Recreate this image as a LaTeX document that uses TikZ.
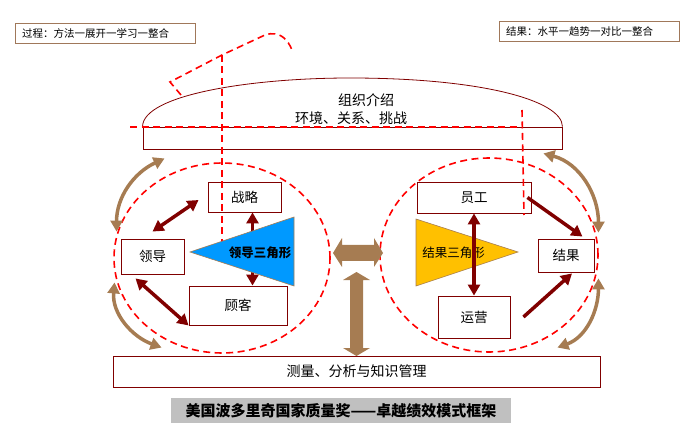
\documentclass[tikz,border=0pt]{standalone}
\usepackage{fontspec}
\setmainfont{Noto Sans CJK SC}
\usepackage{tikz}
\usetikzlibrary{arrows.meta}

\definecolor{darkred}{RGB}{128,0,0}
\definecolor{tanbrown}{RGB}{166,124,82}
\definecolor{notebrown}{RGB}{160,120,90}
\definecolor{triblue}{RGB}{0,153,255}
\definecolor{triyellow}{RGB}{255,192,0}
\definecolor{capgray}{RGB}{192,192,192}

\begin{document}
\begin{tikzpicture}[x=1pt,y=1pt,>={Triangle[length=11pt,width=12pt]}]
		\useasboundingbox (0,0) rectangle (695,-443);
		\tikzstyle{BoxStyle}=[draw=darkred,line width=0.9pt,inner sep=0pt,font=\fontsize{13.5}{15}\selectfont]
		\tikzstyle{NoteStyle}=[draw=notebrown,line width=0.9pt,inner xsep=7pt,inner ysep=0pt,text width=166pt,align=left,minimum height=20pt,font=\fontsize{10.5}{12}\selectfont]
		\tikzstyle{RedDash}=[red,line width=1.6pt,dash pattern=on 7pt off 4.5pt]
		\tikzstyle{LinkStyle}=[darkred,line width=3.5pt]
		\tikzstyle{LoopStyle}=[tanbrown,line width=3.5pt,<->]
		%\tikzstyle{LabelStyle}=[fill=white]
		% notes on top
		\node[NoteStyle] (process) at (105,-33) {过程：方法一展开一学习一整合};
		\node[NoteStyle] (outcome) at (589,-31.5) {结果：水平一趋势一对比一整合};
		% organisation header
		\node[BoxStyle,minimum width=419pt,minimum height=22pt] (org) at (352.5,-138) {};
		\draw[darkred,line width=0.8pt] (org.north west) .. controls (143,-95) and (250,-78) .. (350,-78)
			.. controls (480,-78) and (562,-100) .. (org.north east);
		\node[font=\fontsize{14}{16}\selectfont] (orgtitle) at (366,-100) {组织介绍};
		\node[font=\fontsize{14}{16}\selectfont] (orgsub) at (351,-118) {环境、关系、挑战};
		% the two circles
		\draw[RedDash] (222,-258) ellipse [x radius=108, y radius=95];
		\draw[RedDash] (489,-255) ellipse [x radius=109, y radius=97];
		{
			\tikzset{BoxStyle/.append style={minimum height=31pt}}
			\node[BoxStyle,minimum width=73pt,minimum height=30pt] (strat) at (244.5,-197) {战略};
			\node[BoxStyle,minimum width=63pt,minimum height=35pt] (lead) at (152.5,-256.5) {领导};
			\node[BoxStyle,minimum width=98pt,minimum height=39pt] (cust) at (238,-305.5) {顾客};
			\node[BoxStyle,minimum width=114pt] (emp) at (474,-197.5) {员工};
			\node[BoxStyle,minimum width=56pt,minimum height=33pt] (res) at (566,-255.5) {结果};
			\node[BoxStyle,minimum width=72pt,minimum height=42pt] (ops) at (474,-317) {运营};
		}
		\node[BoxStyle,minimum width=487pt,minimum height=31pt,font=\fontsize{14}{16}\selectfont] (meas) at (356.5,-371.5) {测量、分析与知识管理};
		\node[fill=capgray,minimum width=340pt,minimum height=25pt,inner sep=0pt,font=\fontsize{15}{17}\selectfont\bfseries] (caption) at (341,-410.5) {美国波多里奇国家质量奖——卓越绩效模式框架};
		% dashed guide lines
		\draw[RedDash] (130,-127) -- (518,-127);
		\draw[RedDash] (522,-110) -- (524,-215);
		\draw[RedDash] (181,-95) -- (170,-82) -- (222,-55) -- (265,-35) .. controls (280,-30) and (288,-40) .. (292,-50);
		\draw[RedDash] (222,-55) -- (222,-250);
		% leadership triangle
		\draw[LinkStyle,<->] ([xshift=8pt]strat.south) -- ([xshift=8pt]strat.south |- cust.north);
		\filldraw[fill=triblue,draw=tanbrown,line width=0.6pt] (190,-252) -- (294,-217) -- (294,-286) -- cycle;
		\node[font=\fontsize{12.5}{14}\selectfont\bfseries] (leadtri) at (260,-253) {领导三角形};
		\draw[LinkStyle,<->] ([yshift=7pt]lead.north) -- ([xshift=-9pt,yshift=-3pt]strat.west);
		\draw[LinkStyle,<->] ([xshift=-17pt,yshift=-4pt]lead.south) -- (cust.south west);
		% results triangle
		\filldraw[fill=triyellow,draw=tanbrown,line width=0.6pt] (416,-219) -- (518,-252) -- (416,-286) -- cycle;
		\node[font=\fontsize{12.5}{14}\selectfont] (restri) at (453.5,-253) {结果三角形};
		\draw[LinkStyle,<->] (emp.south) -- (ops.north);
		\draw[LinkStyle,->] ([xshift=-4pt]emp.east) -- ([xshift=-12pt,yshift=2pt]res.north east);
		\draw[LinkStyle,->] ([xshift=13pt]ops.east) -- ([xshift=6pt,yshift=-1pt]res.south);
		% curved links
		\draw[LoopStyle] ([xshift=22pt,yshift=-9pt]org.south west) to[out=205,in=90] ([xshift=-4pt,yshift=7pt]lead.north west);
		\draw[LoopStyle] ([xshift=-6pt,yshift=-8pt]lead.south west) to[out=-95,in=160] ([xshift=49pt,yshift=8pt]meas.north west);
		\draw[LoopStyle] ([xshift=-19pt,yshift=-4pt]org.south east) to[out=-15,in=90] ([xshift=4pt,yshift=6pt]res.north east);
		\draw[LoopStyle] ([xshift=4pt,yshift=-6pt]res.south east) to[out=-90,in=20] ([xshift=-43pt,yshift=8pt]meas.north east);
		% fat arrows
		\fill[tanbrown] (333,-253) -- (342,-238) -- (342,-245) -- (374,-245) -- (374,-238) -- (383,-253)
			-- (374,-267) -- (374,-261) -- (342,-261) -- (342,-267) -- cycle;
		\fill[tanbrown] (356.5,-272) -- (370,-280) -- (363,-280) -- (363,-348) -- (370,-348) -- (356.5,-356)
			-- (343,-348) -- (350,-348) -- (350,-280) -- (343,-280) -- cycle;
	\end{tikzpicture}
\end{document}
